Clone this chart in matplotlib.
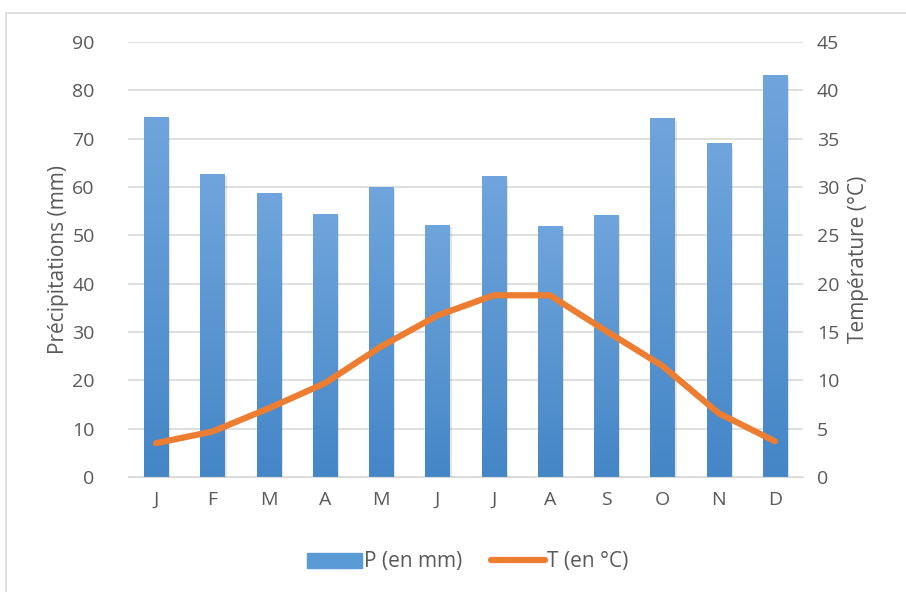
import numpy as np
import matplotlib.pyplot as plt
from matplotlib.patches import Rectangle
from matplotlib.lines import Line2D
from matplotlib.colors import LinearSegmentedColormap

months = ['J', 'F', 'M', 'A', 'M', 'J', 'J', 'A', 'S', 'O', 'N', 'D']
precip = [74.5, 62.7, 58.7, 54.5, 60.0, 52.2, 62.2, 52.0, 54.3, 74.2, 69.0, 83.2]
temp = [3.5, 4.7, 7.1, 9.7, 13.5, 16.7, 18.8, 18.8, 15.1, 11.5, 6.6, 3.7]

plt.rcParams['font.family'] = ['Open Sans', 'DejaVu Sans']
gray = '#595959'
fs = 14

fig = plt.figure(figsize=(9.06, 5.92), dpi=100)
ax = fig.add_axes([128 / 906, 1 - 477 / 592, 675 / 906, 435 / 592])
ax2 = ax.twinx()

x = np.arange(len(months))
bars = ax.bar(x, precip, width=0.43, color='none', zorder=2)

# vertical gradient for each bar
grad = np.linspace(0, 1, 256).reshape(-1, 1)
cmap = LinearSegmentedColormap.from_list('b', ['#4586c7', '#6fa5dc'])
for b in bars:
    x0, w, h = b.get_x(), b.get_width(), b.get_height()
    # soft shadow on the right
    ax.add_patch(Rectangle((x0 + w, 0), 0.04, h - 0.5, color='#000000', alpha=0.1, lw=0, zorder=1.5))
    im = ax.imshow(grad, cmap=cmap, origin='lower', extent=[x0, x0 + w, 0, h],
                   aspect='auto', zorder=2)
    im.set_clip_path(b)

ax.set_xlim(-0.5, 11.5)
ax.set_ylim(0, 90)
ax.set_yticks(range(0, 91, 10))
ax.set_xticks(x)
ax.set_xticklabels(months)
ax.grid(axis='y', color='#d9d9d9', lw=1.2, zorder=0)
ax.set_axisbelow(True)

ax2.plot(x, temp, color='#ed7d31', lw=4.5, solid_capstyle='round', solid_joinstyle='round', zorder=3)
ax2.set_ylim(0, 45)
ax2.set_yticks(range(0, 46, 5))

for a in (ax, ax2):
    for s in a.spines.values():
        s.set_visible(False)
    a.tick_params(length=0, labelsize=fs, colors=gray)
ax.spines['bottom'].set_visible(True)
ax.spines['bottom'].set_color('#d9d9d9')
ax.tick_params(axis='y', pad=24)
ax.tick_params(axis='x', pad=10)
ax2.tick_params(axis='y', pad=10)

ax.set_ylabel('Précipitations (mm)', fontsize=15, color=gray, labelpad=2)
ax2.set_ylabel('Température (°C)', fontsize=15, color=gray, labelpad=6)

handles = [Rectangle((0, 0), 1, 1, color='#5b9bd5'),
           Line2D([0], [0], color='#ed7d31', lw=4.5, solid_capstyle='round')]
fig.legend(handles, ['P (en mm)', 'T (en °C)'], loc='center', bbox_to_anchor=(468 / 906, 1 - 562 / 592),
           ncol=2, frameon=False, fontsize=15, labelcolor=gray, handlelength=2.6,
           handletextpad=0.1, columnspacing=1.4)

# outer chart frame
fig.add_artist(Rectangle((6 / 906, -0.01), 1.0, 1 - 13 / 592 + 0.01, transform=fig.transFigure,
                         fill=False, ec='#d9d9d9', lw=1.2))

fig.savefig('out.png', dpi=100)
